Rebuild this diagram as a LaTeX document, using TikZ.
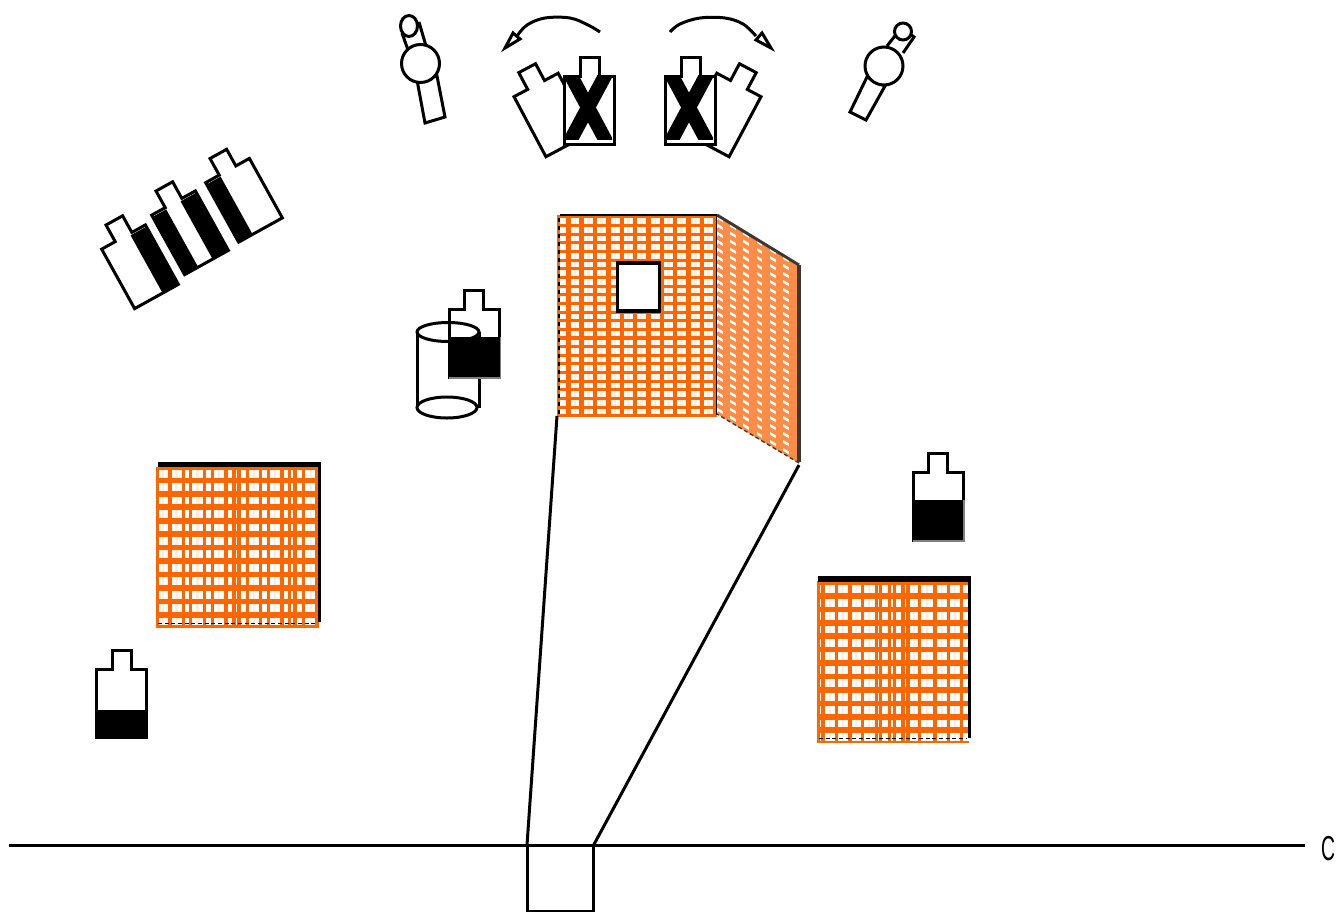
\documentclass[tikz,border=0pt]{standalone}
\usepackage{fontspec}
\setmainfont{Liberation Sans}
\definecolor{meshorange}{RGB}{255,102,0}
\definecolor{meshpale}{RGB}{255,236,222}
\definecolor{meshside}{RGB}{253,140,70}
\definecolor{edgedark}{RGB}{60,55,50}
\newcommand{\flaskat}[3]{%
  \begin{scope}[shift={(#1)},rotate=#2]
    \draw[ink,fill=white] (-25,0) -- (-25,-68) -- (-9.5,-68) -- (-9.5,-87) -- (9.5,-87) -- (9.5,-68) -- (25,-68) -- (25,0) -- cycle;
    #3
  \end{scope}}
% x0 y0 x1 y1, pale columns, orange columns, first row, row step, column width
\newcommand{\meshpanel}[9]{%
  \fill[white] (#1,#2) rectangle (#3,#4);
  \begin{scope}
    \clip (#1,#2) rectangle (#3,#4);
    \foreach \xx in {#5} {\draw[meshpale,line width=2pt] (\xx,#2) -- (\xx,#4);}
    \foreach \xx in {#6} {\draw[meshorange,line width=#9] (\xx,#2) -- (\xx,#4);}
    \foreach \k in {0,1,...,24} {
      \pgfmathsetmacro{\yy}{#7+\k*#8}
      \draw[meshorange,line width=\rowwd] (#1,\yy) -- (#3,\yy);
    }
  \end{scope}}
\newcommand{\rowwd}{4.2pt}
\tikzset{
  ink/.style={line width=2.25pt,line join=miter,draw=black},
  meshs/.style={draw=meshside},
  panelnode/.style={inner sep=0pt,outer sep=0pt,draw=none},
  hole/.style={draw=black,line width=2.4pt,fill=white,inner sep=0pt,outer sep=0pt},
  boxnode/.style={draw=black,line width=2.25pt,fill=white,inner sep=0pt,outer sep=0pt}
}
\begin{document}
\begin{tikzpicture}[x=0.75pt,y=-0.75pt]
\useasboundingbox (0,0) rectangle (1336,911);

% ---- main panel
\node[panelnode,minimum width=120pt,minimum height=150.75pt] (mainpanel) at (637,315.5) {};
\renewcommand{\rowwd}{2.3pt}
\meshpanel{557}{215}{717}{416}{575,588.3,601.7,615,628.4,641.7,655,668.4,681.8,695.2,708.6}{558,568.3,581.65,595,608.35,621.7,635.05,648.4,661.75,675.1,688.45,701.8,715.5}{216.9}{8.65}{3.3pt}
\draw[black,line width=2.2pt] (560,215) -- (717,215);
\draw[black,line width=1.5pt] (717,215) -- (717,415);
\draw[black,line width=1.5pt,dash pattern=on 3pt off 3pt] (558.5,218) -- (558.5,414);
\node[hole,minimum width=32pt,minimum height=36pt] (window) at (638.5,287) {};

% ---- side panel
\coordinate (sidetop) at (799,265);
\coordinate (sidebot) at (799,463);
\fill[white] (717,215) -- (sidetop) -- (sidebot) -- (717,414) -- cycle;
\begin{scope}
  \clip (717,215) -- (sidetop) -- (sidebot) -- (717,414) -- cycle;
  \foreach \k in {0,1,...,7} {\draw[meshs,line width=5.6pt] ({713+\k*13.3},210) -- ({713+\k*13.3},470);}
  \foreach \k in {0,1,...,27} {\draw[meshs,line width=3.1pt] (717,{213+\k*8}) -- (799,{263+\k*8});}
\end{scope}
\draw[edgedark,line width=2.2pt] (717,215) -- (sidetop);
\draw[edgedark,line width=3pt] (798.5,265) -- (798.5,462);
\draw[edgedark,line width=1pt,dash pattern=on 3pt off 2pt] (sidebot) -- (717,414);

% ---- left panel
\node[panelnode,minimum width=123pt,minimum height=123pt] (leftpanel) at (238,545) {};
\renewcommand{\rowwd}{4.2pt}
\meshpanel{156}{467}{319}{627.5}{163,176.5,197.5,219,254,275,311}{157,170,183.3,190.7,204.7,212.3,226,234,239,247.3,260.7,268.7,282,289.7,295,303.7,317}{467}{13.43}{2.4pt}
\draw[black,line width=3.7pt] (158,464.5) -- (321,464.5);
\draw[black,line width=2.2pt] (319.5,463) -- (319.5,622);
\draw[black,line width=1.3pt,dash pattern=on 3pt off 2pt] (158,623.5) -- (317,623.5);

% ---- right panel
\node[panelnode,minimum width=115pt,minimum height=124pt] (rightpanel) at (893,660) {};
\meshpanel{817}{581}{969}{742.5}{830,843,856,869,914,927,942,955}{818,823,836.7,850,862.7,876.7,880.7,889.7,894.7,903,908,919.3,935,948.3,961.7}{582.5}{13.43}{2.4pt}
\draw[black,line width=3.9pt] (818,579) -- (971,579);
\draw[black,line width=2pt] (969.5,580) -- (969.5,738);
\draw[black,line width=1.3pt,dash pattern=on 3pt off 2pt] (819,738.5) -- (967,738.5);

% ---- connectors and axis
\coordinate (axisL) at (9,845);
\coordinate (axisR) at (1305,845);
\coordinate (sidefoot) at (799,465);
\draw[ink] (axisL) -- (axisR);
\node[boxnode,minimum width=50pt,minimum height=49.5pt,anchor=north west] (sensor) at (527,845) {};
\draw[ink] (mainpanel.south west) -- (sensor.north west);
\draw[ink] (sidefoot) -- (sensor.north east);
\node[anchor=base west,inner sep=0pt,font=\fontsize{26}{26}\selectfont,xscale=0.56,transform shape] (axislabel) at (1321,860) {C};

% ---- upright bottles
\flaskat{121.5,737}{0}{\fill[black] (-25.5,-27) rectangle (25.5,0);}
\flaskat{938,540}{0}{\fill[black] (-25,-40) rectangle (25,0);\draw[gray,line width=0.8pt] (26,-40) -- (26,1) -- (-25,1);}

% ---- cylinder + bottle
\flaskat{474,377}{0}{}
\draw[ink] (417,332) -- (417,408);
\draw[ink] (479,332) -- (479,408);
\draw[ink] (448,332) ellipse (31 and 9.5);
\draw[ink,fill=white] (447,407.5) ellipse (30 and 10.5);
\fill[black] (449,337) rectangle (499.5,377);
\draw[gray,line width=0.8pt] (500.5,337) -- (500.5,378) -- (449,378);

% ---- tilted bottles top-left
\flaskat{156.5,296.5}{29}{\fill[black] (7,-66) rectangle (25.5,0.5);}
\flaskat{206.5,262.5}{29}{\fill[black] (-25.5,-66) rectangle (-9.5,0.5);\fill[black] (7,-66) rectangle (25.5,0.5);}
\flaskat{260.5,230}{29}{\fill[black] (-25.5,-66) rectangle (-9,0.5);}

% ---- crossed bottles with turned ones behind
\flaskat{568,145}{28}{}
\flaskat{707,145}{-28}{}
\flaskat{589.5,144}{0}{\begin{scope}\clip (-25.5,-69) rectangle (22.5,-5);\draw[black,line width=10.5pt] (-20.5,-72) -- (17.5,-1);\draw[black,line width=10.5pt] (17.5,-72) -- (-20.5,-1);\end{scope}}
\flaskat{690.5,144}{0}{\begin{scope}\clip (-25.5,-69) rectangle (22.5,-5);\draw[black,line width=10.5pt] (-20.5,-72) -- (17.5,-1);\draw[black,line width=10.5pt] (17.5,-72) -- (-20.5,-1);\end{scope}}

% ---- arcs with heads
\draw[ink] plot[smooth,tension=0.6] coordinates {(600,32) (588,25) (570,18) (545,18) (527,25) (517,36)};
\draw[ink,fill=white] (505,48) -- (513,33) -- (520,39) -- cycle;
\draw[ink] plot[smooth,tension=0.6] coordinates {(670,32) (680,24) (700,18) (725,18) (743,24) (756,36)};
\draw[ink,fill=white] (771,48) -- (762,33) -- (756,40) -- cycle;

% ---- left figure
\draw[ink,fill=white] (417,80) -- (425,123) -- (445,117) -- (437,76) -- cycle;
\draw[ink] (402,33) -- (408,50);
\draw[ink] (419,22) -- (426,46);
\draw[ink,fill=white] (420.5,63.5) circle (19);
\draw[ink,fill=white] (409,26) ellipse (8.5 and 10.5);

% ---- right figure
\draw[ink,fill=white] (867,77) -- (850,112) -- (866,120) -- (885,86) -- cycle;
\draw[ink] (887,46) -- (898,32);
\draw[ink] (903,53) -- (914,37) -- (909,33);
\draw[ink,fill=white] (884,66) circle (19);
\draw[ink,fill=white] (903,31.5) circle (8.5);
\end{tikzpicture}
\end{document}
